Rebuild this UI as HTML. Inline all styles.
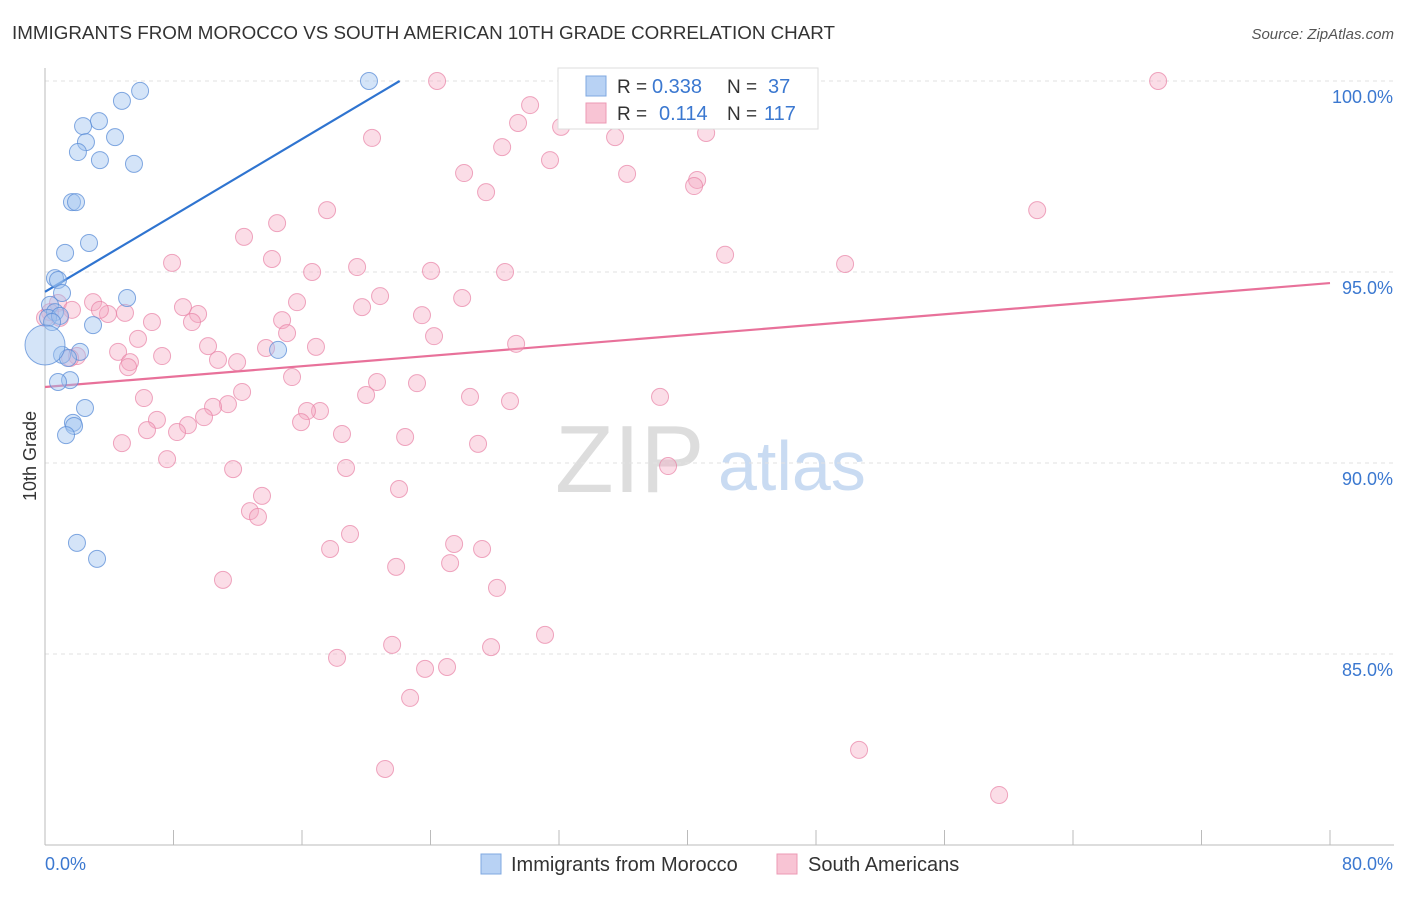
<!DOCTYPE html>
<html><head><meta charset="utf-8">
<style>
body{margin:0;background:#fff;font-family:"Liberation Sans",sans-serif;}
svg text{font-family:"Liberation Sans",sans-serif;}
</style></head>
<body>
<svg id="chart" width="1406" height="892" xmlns="http://www.w3.org/2000/svg">
<text x="12" y="39" font-size="18" fill="#333" textLength="823" lengthAdjust="spacingAndGlyphs">IMMIGRANTS FROM MOROCCO VS SOUTH AMERICAN 10TH GRADE CORRELATION CHART</text>
<text x="1394" y="39" font-size="15" fill="#555" font-style="italic" text-anchor="end">Source: ZipAtlas.com</text>
<text x="36" y="456" font-size="18" fill="#333" text-anchor="middle" transform="rotate(-90 36 456)">10th Grade</text>
<text x="555" y="492" font-size="96" fill="#ddd" font-family="Liberation Serif">ZIP</text>
<text x="718" y="490" font-size="70" fill="#c9dbf2">atlas</text>
<g id="grid"></g>
<g id="axes"></g>
<g id="trends"></g>
<g id="points"></g>
<g>
<rect x="558" y="68" width="260" height="61" fill="#fff" stroke="#ddd"/>
<rect x="586" y="76" width="20" height="20" fill="#b8d2f4" stroke="#7fa8e0"/>
<text x="617" y="93" font-size="19" fill="#333">R =</text>
<text x="652" y="93" font-size="20" fill="#3b78d0">0.338</text>
<text x="727" y="93" font-size="19" fill="#333">N =</text>
<text x="768" y="93" font-size="20" fill="#3b78d0">37</text>
<rect x="586" y="103" width="20" height="20" fill="#f8c4d4" stroke="#ec9ab4"/>
<text x="617" y="120" font-size="19" fill="#333">R =</text>
<text x="659" y="120" font-size="20" fill="#3b78d0">0.114</text>
<text x="727" y="120" font-size="19" fill="#333">N =</text>
<text x="764" y="120" font-size="20" fill="#3b78d0">117</text>
</g>
<g>
<rect x="481" y="854" width="20" height="20" fill="#b8d2f4" stroke="#7fa8e0"/>
<text x="511" y="871" font-size="20" fill="#333">Immigrants from Morocco</text>
<rect x="777" y="854" width="20" height="20" fill="#f8c4d4" stroke="#ec9ab4"/>
<text x="808" y="871" font-size="20" fill="#333">South Americans</text>
</g>
</svg>
<script>
const xTickLabels=["0.0%","80.0%"];
const yTicks=[85,90,95,100];
const yTickLabels=["85.0%","90.0%","95.0%","100.0%"];
const blueX=[20.17,5.92,4.79,3.36,2.37,4.36,2.55,2.05,3.42,5.54,1.68,1.93,2.74,1.25,0.62,0.81,1.06,5.11,0.31,0.62,0.19,0.93,0.44,2.99,14.51,2.18,1.06,1.43,1.56,0.81,2.49,1.74,1.81,1.31,1.99,3.24,0];
const blueY=[100.0,99.74,99.48,98.95,98.82,98.53,98.40,98.14,97.93,97.83,96.83,96.83,95.76,95.50,94.84,94.79,94.45,94.32,94.14,93.95,93.80,93.85,93.69,93.61,92.96,92.91,92.83,92.75,92.17,92.12,91.44,91.05,90.97,90.73,87.91,87.49,93.09];
const pinkX=[24.41,32.57,69.30,37.05,30.20,29.45,32.13,20.36,35.49,41.16,28.46,31.44,26.09,36.24,40.60,40.41,27.46,61.77,17.56,14.45,12.39,42.34,7.91,14.13,19.43,49.81,16.63,24.03,28.64,15.69,20.86,25.97,19.74,23.47,8.59,9.53,9.15,14.76,6.66,3.92,4.98,2.99,3.42,0.81,1.68,0.93,0.31,0,15.07,24.22,5.79,10.15,13.76,16.87,29.33,4.55,7.29,10.77,11.96,5.29,5.17,1.99,1.56,15.38,20.67,23.16,19.99,12.27,6.16,26.46,28.95,38.29,11.39,10.46,17.12,16.31,9.90,6.97,15.94,8.90,6.35,8.22,18.49,22.42,4.79,26.96,7.60,38.79,11.71,18.74,13.51,22.04,12.76,13.26,18.99,17.75,25.47,27.21,25.22,21.86,11.08,28.14,31.13,21.61,27.77,18.18,25.03,23.66,22.73,50.68,21.17,59.40];
const pinkY=[100.0,100.0,100.0,99.58,99.37,98.90,98.80,98.51,98.53,98.64,98.27,97.93,97.59,97.57,97.41,97.25,97.09,96.62,96.62,96.28,95.92,95.45,95.24,95.34,95.13,95.21,95.00,95.03,95.00,94.21,94.37,94.32,94.08,93.87,94.08,93.90,93.69,93.74,93.69,93.90,93.93,94.21,94.01,94.19,94.01,93.80,93.95,93.80,93.40,93.32,93.25,93.06,93.01,93.04,93.12,92.91,92.80,92.70,92.64,92.64,92.51,92.80,92.75,92.25,92.12,92.09,91.78,91.86,91.70,91.73,91.62,91.73,91.54,91.47,91.36,91.36,91.20,91.13,91.07,90.99,90.86,90.81,90.76,90.68,90.52,90.50,90.10,89.92,89.84,89.87,89.14,89.32,88.74,88.59,88.14,87.75,87.88,87.75,87.38,87.28,86.94,86.73,85.50,85.24,85.18,84.90,84.66,84.61,83.85,82.49,81.99,81.31];
const blueTrend=[94.48,0.25];
const pinkTrend=[91.99,0.034];

const X0=45,X1=1330,Y100=81,PXPER=38.2;
function sx(v){return X0+(v/80)*(X1-X0);}
function sy(v){return Y100+(100-v)*PXPER;}
const NS="http://www.w3.org/2000/svg";
function mk(tag,attrs,parent){const e=document.createElementNS(NS,tag);for(const k in attrs)e.setAttribute(k,attrs[k]);parent.appendChild(e);return e;}
const grid=document.getElementById('grid'),axes=document.getElementById('axes'),tr=document.getElementById('trends'),pts=document.getElementById('points');
yTicks.forEach((t,i)=>{
  const l=mk('line',{x1:X0,x2:1394,y1:sy(t),y2:sy(t),stroke:'#e2e2e2','stroke-dasharray':'4,4'},grid);
  
  
  const tx=mk('text',{x:1393,y:sy(t)+22,'font-size':18,fill:'#3b78d0','text-anchor':'end'},axes);
  tx.textContent=yTickLabels[i];
  
  
});
const ya=mk('line',{x1:X0,x2:X0,y1:68,y2:845,stroke:'#bbb'},axes);


const xa=mk('line',{x1:X0,x2:1394,y1:845,y2:845,stroke:'#bbb'},axes);


for(let i=1;i<=10;i++){
  const t=mk('line',{x1:sx(i*8),x2:sx(i*8),y1:830,y2:845,stroke:'#bbb'},axes);
  
  
}
const xl0=mk('text',{x:45,y:870,'font-size':18,fill:'#3b78d0'},axes);xl0.textContent=xTickLabels[0];


const xl1=mk('text',{x:1393,y:870,'font-size':18,fill:'#3b78d0','text-anchor':'end'},axes);xl1.textContent=xTickLabels[1];


pinkX.forEach((x,i)=>{
  const c=mk('circle',{cx:sx(x),cy:sy(pinkY[i]),r:8.5,fill:'rgba(244,170,195,0.4)',stroke:'rgba(232,130,165,0.7)','stroke-width':1},pts);
  
  
});
blueX.forEach((x,i)=>{
  const r=(i===blueX.length-1)?20:8.5;
  const c=mk('circle',{cx:sx(x),cy:sy(blueY[i]),r:r,fill:'rgba(160,195,240,0.45)',stroke:'rgba(90,140,215,0.75)','stroke-width':1},pts);
  
  
});
const bxEnd=(100-blueTrend[0])/blueTrend[1];
const bl=mk('line',{x1:sx(0),y1:sy(blueTrend[0]),x2:sx(bxEnd),y2:sy(100),stroke:'#2f74d0','stroke-width':2.2},tr);


const pl=mk('line',{x1:sx(0),y1:sy(pinkTrend[0]),x2:sx(80),y2:sy(pinkTrend[0]+pinkTrend[1]*80),stroke:'#e8719a','stroke-width':2.2},tr);


</script>
</body></html>
